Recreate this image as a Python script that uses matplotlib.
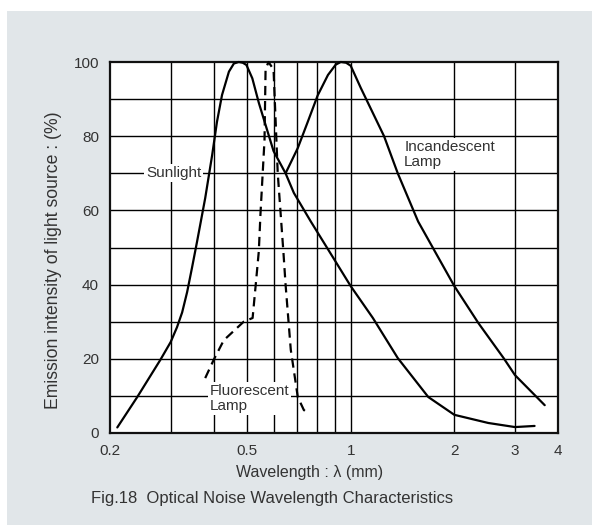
import matplotlib
matplotlib.use("Agg")
import matplotlib.pyplot as plt
from matplotlib.patches import Rectangle

plt.rcParams['font.family'] = ['Liberation Sans', 'DejaVu Sans']

# Data (wavelength, emission intensity %)
sun_x = [0.21, 0.24, 0.28, 0.30, 0.313, 0.324, 0.335, 0.346, 0.358, 0.378, 0.396, 0.409,
         0.423, 0.443, 0.458, 0.473, 0.486, 0.498, 0.518, 0.541, 0.597, 0.647, 0.684, 0.766,
         0.893, 1.0, 1.16, 1.37, 1.68, 2.0, 2.51, 3.0, 3.42]
sun_y = [1.5, 9.7, 19.7, 24.5, 28.5, 32.5, 38, 44.5, 51.6, 63.3, 74.9, 83.9,
         91.1, 97.4, 99.6, 100, 99.8, 99.2, 95.6, 89, 76, 70, 64.7, 57,
         47, 39.6, 31, 20.2, 9.7, 4.9, 2.7, 1.6, 1.9]

inc_x = [0.647, 0.702, 0.75, 0.802, 0.859, 0.905, 0.936, 0.97, 1.0, 1.07, 1.25, 1.37,
         1.57, 2.0, 2.35, 2.78, 3.0, 3.66]
inc_y = [70, 76.8, 83.8, 91, 96.5, 99.3, 100, 99.8, 99, 93, 80, 70,
         57, 39.6, 29.6, 20.2, 15.6, 7.5]

fl_x = [0.378, 0.40, 0.428, 0.489, 0.519, 0.53, 0.541, 0.547, 0.562, 0.566, 0.577,
        0.597, 0.614, 0.638, 0.647, 0.67, 0.702, 0.731, 0.75]
fl_y = [14.8, 19.7, 25, 30, 31, 40, 49, 59, 79, 98, 100,
        98, 70, 48.5, 40, 22.4, 9.7, 6.2, 5.4]

x_ticks = [0.2, 0.5, 1, 2, 3, 4]
x_tick_labels = ["0.2", "0.5", "1", "2", "3", "4"]
x_grid = [0.3, 0.4, 0.5, 0.6, 0.7, 0.8, 0.9, 1, 2, 3]
y_ticks = [0, 20, 40, 60, 80, 100]

W, H = 592, 526
fig = plt.figure(figsize=(W / 100, H / 100), dpi=100)
fig.patch.set_facecolor('white')
fig.patches.append(Rectangle((7 / W, 1 - 525 / H), (W - 7) / W, (525 - 11) / H,
                             transform=fig.transFigure, facecolor='#e1e6e9',
                             edgecolor='none', zorder=-10))

ax = fig.add_axes([110 / W, 1 - 433 / H, (558 - 110) / W, (433 - 62) / H])
ax.set_zorder(5)
ax.set_facecolor('white')
ax.set_xscale('log')
ax.set_xlim(0.2, 4)
ax.set_ylim(0, 100)

# grid
for gx in x_grid:
    ax.axvline(gx, color='black', lw=1.0, zorder=1)
for gy in range(10, 100, 10):
    ax.axhline(gy, color='black', lw=1.0, zorder=1)

ax.minorticks_off()
ax.set_xticks(x_ticks)
ax.set_xticklabels(x_tick_labels)
ax.set_yticks(y_ticks)
ax.tick_params(length=0, labelsize=11, labelcolor='#333333', pad=8)
for s in ax.spines.values():
    s.set_linewidth(1.6)
    s.set_color('#111111')

ax.plot(sun_x, sun_y, color='black', lw=1.6, zorder=3, clip_on=False,
        solid_capstyle='round', solid_joinstyle='round')
ax.plot(inc_x, inc_y, color='black', lw=1.6, zorder=3, clip_on=False,
        solid_capstyle='round', solid_joinstyle='round')
ax.plot(fl_x, fl_y, color='black', lw=1.6, ls=(0, (4.2, 2.6)), zorder=3, clip_on=False)

bb = dict(facecolor='white', edgecolor='none', boxstyle='square,pad=0.12')
ax.text(0.306, 70, "Sunlight", fontsize=11, color='#333333', ha='center', va='center',
        bbox=bb, zorder=4)
ax.text(1.43, 75, "Incandescent\nLamp", fontsize=11, color='#333333', ha='left',
        va='center', linespacing=1.1, bbox=bb, zorder=4)
ax.text(0.389, 9.4, "Fluorescent\nLamp", fontsize=11, color='#333333', ha='left',
        va='center', linespacing=1.1, bbox=bb, zorder=4)

fig.text(310 / W, 1 - 472 / H, "Wavelength : λ (mm)", fontsize=11.5, color='#333333',
         ha='center', va='center')
fig.text(54 / W, 1 - 260 / H, "Emission intensity of light source : (%)", fontsize=12.7,
         color='#333333', rotation=90, ha='center', va='center')

fig.text(272 / W, 1 - 498 / H, "Fig.18  Optical Noise Wavelength Characteristics",
         fontsize=12, color='#333333', ha='center', va='center')

fig.savefig("out.png", dpi=100)
